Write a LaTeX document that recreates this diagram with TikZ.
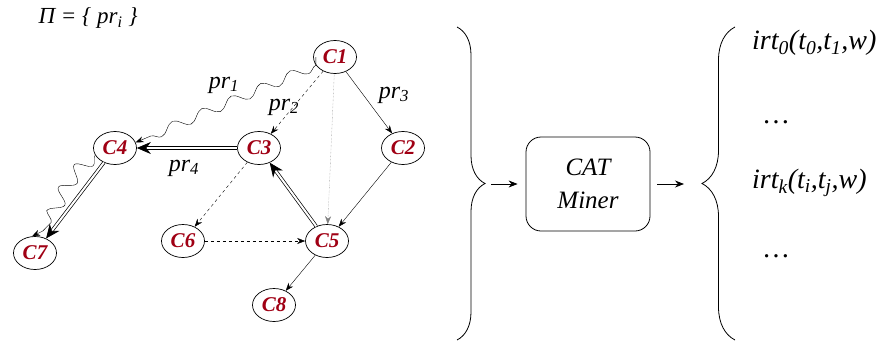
\documentclass[tikz,border=0pt]{standalone}
\usepackage{fontspec}
\setmainfont{Liberation Serif}
\usepackage{tikz}
\usetikzlibrary{arrows.meta}
\usetikzlibrary{shapes.geometric}
\usetikzlibrary{decorations.pathmorphing}
\usetikzlibrary{decorations.pathreplacing}
\definecolor{classred}{RGB}{160,0,20}

\tikzset{
  cls/.style={ellipse, draw, line width=0.7pt, minimum width=43pt, minimum height=33pt, inner sep=0pt,
    text=classred, font=\rmfamily\fontsize{21}{23}\selectfont\bfseries\itshape},
  prlab/.style={font=\rmfamily\fontsize{24}{26}\selectfont\itshape},
  outlab/.style={font=\rmfamily\fontsize{28}{30}\selectfont\itshape, anchor=west, inner sep=0pt},
  tip/.style={-{Stealth[length=8pt, width=6pt]}},
  wave/.style={tip, decorate, decoration={snake, amplitude=5pt, segment length=32pt, post length=8pt}},
  dbl/.style={double, double distance=2pt, line width=0.7pt, -{Stealth[length=14pt, width=12pt]}},
  flow/.style={line width=0.8pt, -{Stealth[length=9pt, width=7pt]}},
}

\begin{document}
\begin{tikzpicture}[x=1pt, y=-1pt]
\useasboundingbox (0,0) rectangle (882,343);
\node[anchor=west, font=\rmfamily\fontsize{23}{26}\selectfont\itshape] (title) at (35,18) {Π = \{ pr\textsubscript{i} \}};

% classes
\node[cls] (C1) at (335,57) {C1};
\node[cls] (C4) at (115,148) {C4};
\node[cls] (C3) at (259,148) {C3};
\node[cls] (C2) at (403,148) {C2};
\node[cls] (C7) at (35,253) {C7};
\node[cls] (C6) at (183,241) {C6};
\node[cls] (C5) at (327,241) {C5};
\node[cls] (C8) at (274,305) {C8};

% paths
\draw[wave, shorten <=8pt] (C1) -- (C4.15);
\draw[tip, dashed] (C1) -- (C3);
\draw[tip, densely dotted, gray] (C1) -- (C5);
\draw[tip] (C1) -- (C2);
\draw[dbl] (C3) -- (C4);
\draw[tip, dashed] (C3) -- (C6);
\draw[tip, dashed] (C6) -- (C5);
\draw[dbl] (C5) -- (C3);
\draw[tip] (C2) -- (C5);
\draw[tip] (C5) -- (C8);
\draw[dbl] (C4) -- (C7);
\draw[tip, decorate, decoration={snake, amplitude=7pt, segment length=26pt, post length=12pt}]
  (C4.200) .. controls (58,185) and (62,228) .. (C7.100);

\node[prlab] (lpr1) at (224,85) {pr\textsubscript{1}};
\node[prlab] (lpr2) at (284,107) {pr\textsubscript{2}};
\node[prlab] (lpr3) at (394,95) {pr\textsubscript{3}};
\node[prlab] (lpr4) at (184,168) {pr\textsubscript{4}};

% miner
\draw[decorate, decoration={brace, amplitude=28pt}, line width=0.8pt] (457,27) -- (457,340);
\coordinate (inTip) at (485,184);
\node[draw, line width=0.8pt, rounded corners=15pt, minimum width=124pt, minimum height=94pt, align=center,
  font=\rmfamily\fontsize{25}{33}\selectfont\itshape] (miner) at (588,184) {CAT\\Miner};
\draw[flow, shorten <=6pt, shorten >=8pt] (inTip) -- (miner);
\coordinate (outTip) at (702,184);
\draw[flow, shorten <=7pt, shorten >=18pt] (miner) -- (outTip);
\draw[decorate, decoration={brace, amplitude=33pt}, line width=0.8pt] (735,340) -- (735,27);

\node[outlab] (irt0) at (752,43) {irt\textsubscript{0}(t\textsubscript{0},t\textsubscript{1},w)};
\node[outlab] (dots1) at (764,122) {\dots};
\node[outlab] (irtk) at (752,183) {irt\textsubscript{k}(t\textsubscript{i},t\textsubscript{j},w)};
\node[outlab] (dots2) at (764,256) {\dots};
\end{tikzpicture}
\end{document}
